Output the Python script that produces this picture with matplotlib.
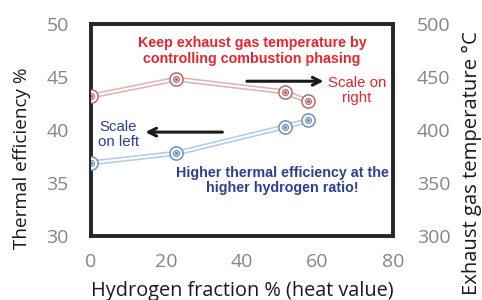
import matplotlib
matplotlib.use('Agg')
import matplotlib.pyplot as plt

# data
h2_frac = [0, 22.5, 51.3, 57.5]
thermal_eff = [36.9, 37.8, 40.3, 40.9]
exhaust_temp = [432, 448, 436, 427]

xticks = [0, 20, 40, 60, 80]
left_ticks = [30, 35, 40, 45, 50]
right_ticks = [300, 350, 400, 450, 500]

plt.rcParams['font.family'] = ['Open Sans', 'DejaVu Sans']

blue_dark = '#6b91bd'
blue_light = '#b3cbe5'
red_dark = '#b86a6a'
red_light = '#e6b0b0'
tick_col = '#858585'

fig = plt.figure(figsize=(4.82, 3.0), dpi=100)
ax = fig.add_axes([91/482, 64/300, 302/482, 212/300])
ax2 = ax.twinx()


def double_line(a, x, y, dark, light):
    a.plot(x, y, color=light, lw=3.8, solid_capstyle='round', zorder=2)
    a.plot(x, y, color='white', lw=1.5, zorder=3)
    a.plot(x, y, ls='none', marker='o', ms=9.5, mfc='white', mec=dark, mew=1.1, zorder=4)
    a.plot(x, y, ls='none', marker='o', ms=4.2, mfc='white', mec=dark, mew=0.9, zorder=5)
    a.plot(x, y, ls='none', marker='o', ms=1.4, mfc=dark, mec=dark, zorder=6)


double_line(ax, h2_frac, thermal_eff, blue_dark, blue_light)
double_line(ax2, h2_frac, exhaust_temp, red_dark, red_light)

ax.set_xlim(0, 80)
ax.set_ylim(30, 50)
ax2.set_ylim(300, 500)
ax.set_xticks(xticks)
ax.set_yticks(left_ticks)
ax2.set_yticks(right_ticks)

ax.tick_params(axis='x', length=0, pad=12, labelsize=14, labelcolor=tick_col)
ax.tick_params(axis='y', length=0, pad=16, labelsize=14, labelcolor=tick_col)
ax2.tick_params(axis='y', length=0, pad=17, labelsize=14, labelcolor=tick_col)

for s in ax.spines.values():
    s.set_linewidth(2.8)
    s.set_color('#262626')
for s in ax2.spines.values():
    s.set_visible(False)

ax.set_xlabel('Hydrogen fraction % (heat value)', fontsize=14.3, color='#1a1a1a')
ax.xaxis.set_label_coords(0.5, -0.212)
ax.set_ylabel('Thermal efficiency %', fontsize=13.6, color='#1a1a1a')
ax.yaxis.set_label_coords(-0.2, 0.368)
ax2.set_ylabel('Exhaust gas temperature °C', fontsize=14.6, color='#1a1a1a')
ax2.yaxis.set_label_coords(1.228, 0.345)

bold = ['Liberation Sans', 'DejaVu Sans']
red_txt = '#e8242c'
blue_txt = '#2e3f94'

# annotations (positions in left-axis data units)
ax.text(42.6, 47.45, 'Keep exhaust gas temperature by\ncontrolling combustion phasing',
        ha='center', va='center', fontsize=10.3, fontweight='bold', color=red_txt,
        family=bold, linespacing=1.1)
ax.text(70.5, 43.7, 'Scale on\nright', ha='center', va='center', fontsize=10.8,
        color=red_txt, family=bold, linespacing=1.1)
ax.annotate('', xy=(61.6, 44.6), xytext=(41.3, 44.6),
            arrowprops=dict(arrowstyle='->', color='#1a1a1a', lw=2.2, mutation_scale=14,
                            shrinkA=0, shrinkB=0))
ax.text(7.2, 39.6, 'Scale\non left', ha='center', va='center', fontsize=10.8,
        color=blue_txt, family=bold, linespacing=1.1)
ax.annotate('', xy=(14.4, 39.8), xytext=(34.8, 39.8),
            arrowprops=dict(arrowstyle='->', color='#1a1a1a', lw=2.2, mutation_scale=14,
                            shrinkA=0, shrinkB=0))
ax.text(50.8, 35.2, 'Higher thermal efficiency at the\nhigher hydrogen ratio!',
        ha='center', va='center', fontsize=10.3, fontweight='bold', color=blue_txt,
        family=bold, linespacing=1.1)

fig.savefig('out.png', dpi=100)
